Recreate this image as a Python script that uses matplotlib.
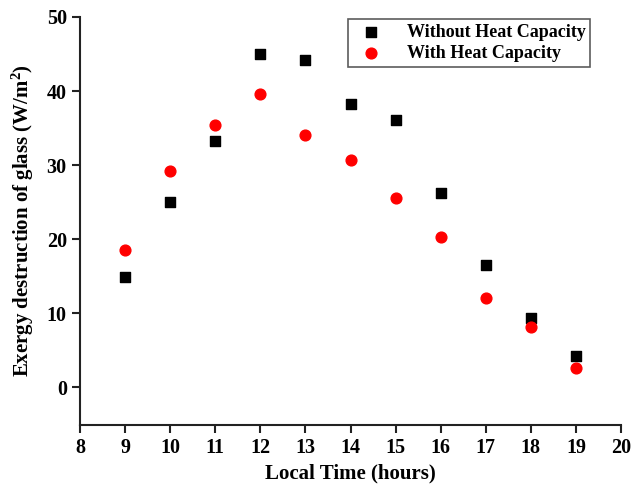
import matplotlib
matplotlib.use("Agg")
import matplotlib.pyplot as plt

hours = [9, 10, 11, 12, 13, 14, 15, 16, 17, 18, 19]
without_hc = [14.9, 25.0, 33.2, 45.0, 44.2, 38.2, 36.1, 26.2, 16.5, 9.3, 4.2]
with_hc = [18.5, 29.2, 35.4, 39.6, 34.1, 30.7, 25.5, 20.3, 12.0, 8.2, 2.6]
xticks = list(range(8, 21))
yticks = [0, 10, 20, 30, 40, 50]

plt.rcParams['font.family'] = ['Liberation Serif', 'DejaVu Serif']
plt.rcParams['font.weight'] = 'bold'
plt.rcParams['mathtext.fontset'] = 'custom'
plt.rcParams['mathtext.rm'] = 'Liberation Serif:bold'
plt.rcParams['mathtext.bf'] = 'Liberation Serif:bold'
plt.rcParams['mathtext.it'] = 'Liberation Serif:bold'

fig = plt.figure(figsize=(6.31, 4.88), dpi=100)
ax = fig.add_axes([80/631, 1 - 425/488, (621-80)/631, (425-17)/488])

ax.scatter(hours, without_hc, marker='s', s=45, color='black', label='Without Heat Capacity', zorder=3)
ax.scatter(hours, with_hc, marker='o', s=60, color='red', label='With Heat Capacity', zorder=3)

ax.set_xlim(8, 20)
ax.set_ylim(-5.1, 50)
ax.set_xticks(xticks)
ax.set_yticks(yticks)
ax.spines['top'].set_visible(False)
ax.spines['right'].set_visible(False)
for s in ['left', 'bottom']:
    ax.spines[s].set_linewidth(1.5)
    ax.spines[s].set_color('#222222')
ax.tick_params(direction='out', length=6, width=1.5, labelsize=14.5, colors='#222222', labelcolor='black')
for lbl in ax.get_xticklabels() + ax.get_yticklabels():
    lbl.set_fontweight('bold')

ax.set_xlabel('Local Time (hours)', fontsize=15, fontweight='bold')
ax.set_ylabel('Exergy destruction of glass (W/m$^{2}$)', fontsize=15, fontweight='bold', labelpad=8)

leg = ax.legend(loc='upper right', bbox_to_anchor=(590/631, 1 - 19/488), bbox_transform=fig.transFigure,
                fontsize=13, frameon=True, fancybox=False, edgecolor='#333333',
                handletextpad=1.0, borderpad=0.25, labelspacing=0.25, borderaxespad=0)
leg.get_frame().set_linewidth(1.2)
for t in leg.get_texts():
    t.set_fontweight('bold')

fig.savefig('out.png', dpi=100)
